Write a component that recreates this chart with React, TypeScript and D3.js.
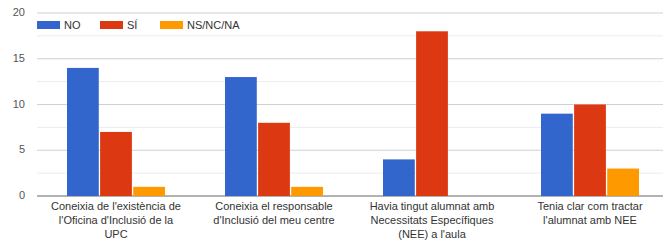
import React from "react";
import * as d3 from "d3";

const categories: string[][] = [
  ["Coneixia de l'existència de", "l'Oficina d'Inclusió de la", "UPC"],
  ["Coneixia el responsable", "d'Inclusió del meu centre"],
  ["Havia tingut alumnat amb", "Necessitats Específiques", "(NEE) a l'aula"],
  ["Tenia clar com tractar", "l'alumnat amb NEE"],
];
const seriesNames = ["NO", "SÍ", "NS/NC/NA"];
const seriesColors = ["#3366cc", "#dc3912", "#ff9900"];
const noValues = [14, 13, 4, 9];
const siValues = [7, 8, 18, 10];
const nsValues = [1, 1, 0, 3];
const yTicks = [0, 5, 10, 15, 20];
const yMinorTicks = [2.5, 7.5, 12.5, 17.5];

export default function App() {
  const W = 663;
  const H = 240;
  const series = [noValues, siValues, nsValues];
  const x = d3.scaleBand<number>().domain([0, 1, 2, 3]).range([37, 669]).paddingInner(0).paddingOuter(0);
  const inner = d3.scaleBand<number>().domain([0, 1, 2]).range([0, 98]).paddingInner(0.04);
  const y = d3.scaleLinear().domain([0, 20]).range([196, 13]);
  const font = "'Liberation Sans', Arial, sans-serif";
  const legendX = [37, 100, 160];
  return (
    <svg width={W} height={H} style={{ position: "absolute", left: 0, top: 0, background: "#fff" }}>
      {yMinorTicks.map((t) => (
        <line key={"m" + t} x1={37} x2={W} y1={y(t)} y2={y(t)} stroke="#ececec" strokeWidth={1} />
      ))}
      {yTicks.map((t) => (
        <g key={t}>
          <line x1={37} x2={W} y1={y(t)} y2={y(t)} stroke={t === 0 ? "#666" : "#d0d0d0"} strokeWidth={1} />
          <text x={25} y={y(t) + 3} textAnchor="end" fontSize={11} fill="#555" fontFamily={font}>{t}</text>
        </g>
      ))}
      {categories.map((_, ci) =>
        series.map((vals, si) => {
          const bw = inner.bandwidth();
          const x0 = (x(ci) as number) + (x.bandwidth() - 98) / 2 + (inner(si) as number);
          const v = vals[ci];
          if (v <= 0) return null;
          return <rect key={ci + "-" + si} x={x0} y={y(v)} width={bw} height={y(0) - y(v)} fill={seriesColors[si]} />;
        })
      )}
      {categories.map((lines, ci) => (
        <text key={"c" + ci} textAnchor="middle" fontSize={11} fill="#333" fontFamily={font}>
          {lines.map((l, li) => (
            <tspan key={li} x={(x(ci) as number) + x.bandwidth() / 2} y={210 + li * 14}>{l}</tspan>
          ))}
        </text>
      ))}
      {seriesNames.map((n, i) => (
        <g key={n}>
          <rect x={legendX[i]} y={21} width={23} height={8} fill={seriesColors[i]} />
          <text x={legendX[i] + 27} y={29} fontSize={11} fill="#333" fontFamily={font}>{n}</text>
        </g>
      ))}
    </svg>
  );
}
